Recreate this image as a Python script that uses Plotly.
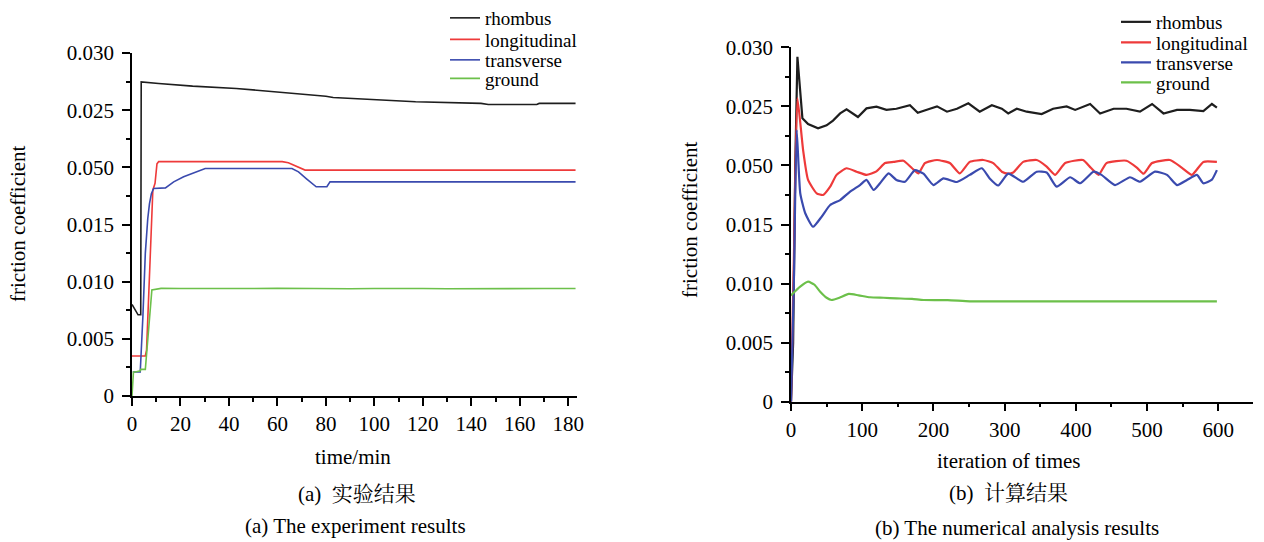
import plotly.graph_objects as go

# ---------------- data: (a) experiment ----------------
t_rhombus = [0, 1.5, 2.5, 3.6, 3.8, 11, 25, 43, 55, 69, 80, 83, 97, 117, 144, 147, 167, 168, 183]
v_rhombus = [0.0080, 0.0074, 0.0071, 0.0071, 0.02747, 0.02733, 0.0271, 0.0269, 0.02669, 0.02646,
             0.02622, 0.02611, 0.02594, 0.02573, 0.02559, 0.0255, 0.0255, 0.02559, 0.02559]

t_long = [0, 5.5, 6.0, 8.2, 8.6, 9.5, 10.3, 11, 30, 50, 62, 64.5, 68.7, 71.4, 90, 120, 150, 183]
v_long = [0.0035, 0.0035, 0.0040, 0.0155, 0.0180, 0.0186, 0.0203, 0.0205, 0.0205, 0.0205, 0.0205,
          0.0204, 0.0200, 0.01976, 0.01976, 0.01976, 0.01976, 0.01976]

t_trans = [0.3, 3.4, 4.5, 5.5, 6.5, 7.2, 8.0, 8.9, 13.8, 17.2, 21.3, 24.7, 30.2, 66, 68.7, 72, 76,
           80.4, 81.7, 100, 140, 183]
v_trans = [0.0021, 0.0021, 0.0070, 0.0125, 0.0155, 0.0168, 0.0177, 0.01815, 0.0182, 0.01873, 0.01917,
           0.01946, 0.0199, 0.0199, 0.0196, 0.0190, 0.0183, 0.0183, 0.01873, 0.01873, 0.01873, 0.01873]

t_ground = [0, 0.6, 1.4, 3.4, 3.6, 5.5, 8.2, 12, 20, 30, 40, 50, 60, 70, 80, 90, 100, 110, 120, 130,
            140, 150, 160, 170, 183]
v_ground = [0, 0.0021, 0.0021, 0.0022, 0.00233, 0.00233, 0.00927, 0.00941, 0.0094, 0.00938, 0.00942,
            0.0094, 0.00943, 0.0094, 0.00941, 0.00938, 0.0094, 0.00942, 0.0094, 0.00938, 0.0094,
            0.00941, 0.00938, 0.0094, 0.0094]

# ---------------- data: (b) numerical ----------------
i_rhombus = [0, 3, 6, 9, 16, 24, 38, 50, 59, 69, 78, 94, 106, 120, 134, 148, 167, 178, 195, 205, 219,
             233, 249, 265, 282, 296, 305, 317, 331, 352, 368, 387, 399, 420, 434, 453, 471, 490, 507,
             523, 542, 560, 579, 591, 598]
n_rhombus = [0, 0.005, 0.020, 0.0292, 0.0240, 0.0235, 0.02315, 0.0234, 0.0238, 0.0244, 0.02475, 0.0241,
             0.02483, 0.02497, 0.0247, 0.0248, 0.0251, 0.02446, 0.0248, 0.0250, 0.02455, 0.0248,
             0.02526, 0.02455, 0.0251, 0.0248, 0.0244, 0.0248, 0.02455, 0.02435, 0.0248, 0.0250,
             0.0247, 0.0252, 0.0244, 0.0248, 0.0248, 0.02455, 0.0252, 0.0244, 0.0247, 0.0247, 0.0246,
             0.0252, 0.0249]

i_long = [0, 4, 9, 17, 24, 36, 45, 55, 64, 78, 92, 106, 120, 132, 144, 158, 170, 179, 188, 205, 223,
          237, 251, 270, 284, 296, 305, 312, 326, 345, 359, 371, 385, 410, 421, 432, 443, 471, 486, 495,
          507, 532, 549, 563, 579, 598]
n_long = [0, 0.012, 0.0257, 0.0213, 0.01877, 0.01764, 0.0175, 0.0182, 0.0192, 0.01976, 0.01947, 0.0192,
          0.0195, 0.0202, 0.0203, 0.0204, 0.01976, 0.01933, 0.0202, 0.02046, 0.0202, 0.01933, 0.0203,
          0.02046, 0.0202, 0.01947, 0.0193, 0.0194, 0.0203, 0.02046, 0.0199, 0.0192, 0.0202, 0.02046,
          0.0198, 0.0192, 0.0202, 0.0204, 0.0198, 0.0193, 0.0202, 0.02046, 0.0198, 0.0192, 0.0203,
          0.0203]

i_trans = [0, 4, 8, 13, 20, 31, 43, 55, 69, 83, 97, 106, 116, 125, 137, 148, 160, 174, 186, 200, 214,
           233, 251, 268, 279, 291, 305, 326, 345, 359, 373, 392, 406, 425, 436, 455, 476, 490, 511,
           528, 542, 556, 570, 579, 591, 598]
n_trans = [0, 0.010, 0.0230, 0.01764, 0.01595, 0.01481, 0.01566, 0.01665, 0.01707, 0.01778, 0.01834,
           0.01877, 0.01792, 0.01849, 0.01933, 0.01877, 0.01862, 0.0196, 0.0193, 0.01834, 0.0189,
           0.0186, 0.0192, 0.01976, 0.0189, 0.0183, 0.0193, 0.01862, 0.01947, 0.0194, 0.0182, 0.0190,
           0.01849, 0.01947, 0.0192, 0.01834, 0.0190, 0.01862, 0.01947, 0.0192, 0.01834, 0.01877,
           0.0192, 0.01849, 0.0188, 0.0196]

i_ground = [0, 3, 12, 24, 33, 41, 50, 57, 68, 81, 95, 111, 130, 148, 170, 186, 220, 251, 300, 400, 500, 598]
n_ground = [0.0090, 0.00918, 0.0097, 0.01016, 0.0099, 0.00931, 0.0088, 0.00861, 0.0088, 0.00912, 0.0090,
            0.00884, 0.0088, 0.00875, 0.0087, 0.00861, 0.0086, 0.0085, 0.0085, 0.0085, 0.0085, 0.0085]

# tick labels (as printed in the original figure)
y_tickvals = [0, 0.005, 0.010, 0.015, 0.020, 0.025, 0.030]
y_ticktext = ["0", "0.005", "0.010", "0.015", "0.050", "0.025", "0.030"]

names = ["rhombus", "longitudinal", "transverse", "ground"]
colors = ["#1e1e1e", "#ee3a3a", "#3a4aae", "#6cc04a"]

FONT = "Liberation Serif, 'Times New Roman', serif"
CJK = "Liberation Serif, 'Noto Serif CJK SC', 'Noto Sans CJK SC', serif"
W, H = 1264, 542
FS = 21
LFS = 19

fig = go.Figure()

left_sets = [(t_rhombus, v_rhombus), (t_long, v_long), (t_trans, v_trans), (t_ground, v_ground)]
right_sets = [(i_rhombus, n_rhombus), (i_long, n_long), (i_trans, n_trans), (i_ground, n_ground)]

left_rows = [18, 39.5, 60, 78.5]
right_rows = [22, 42.5, 62.5, 82.5]

for k, (xs, ys) in enumerate(left_sets):
    fig.add_trace(go.Scatter(x=xs, y=ys, mode="lines", name=names[k],
                             line=dict(color=colors[k], width=1.6),
                             xaxis="x", yaxis="y", legend=f"legend{k + 2}"))
for k, (xs, ys) in enumerate(right_sets):
    shape = "linear" if k == 0 else "spline"
    fig.add_trace(go.Scatter(x=xs, y=ys, mode="lines", name=names[k],
                             line=dict(color=colors[k], width=2.2, shape=shape, smoothing=0.5),
                             xaxis="x2", yaxis="y2", legend=f"legend{k + 6}"))

minor_common = dict(tickmode="linear", tick0=0, ticks="outside", ticklen=4,
                    tickcolor="black", tickwidth=1.5)
axis_common = dict(showline=True, linecolor="black", linewidth=1.5, showgrid=False, zeroline=False,
                   ticks="outside", ticklen=8, tickwidth=1.5, tickcolor="black",
                   tickfont=dict(family=FONT, size=FS, color="black"))

layout = dict(
    width=W, height=H, margin=dict(l=0, r=0, t=0, b=0, autoexpand=False),
    paper_bgcolor="white", plot_bgcolor="white",
    xaxis=dict(domain=[132 / W, 577 / W], range=[0, 183.6], anchor="y",
               tickmode="linear", tick0=0, dtick=20,
               minor=dict(dtick=10, **minor_common), **axis_common),
    yaxis=dict(domain=[(H - 396) / H, (H - 53) / H], range=[0, 0.030], anchor="x",
               tickmode="array", tickvals=y_tickvals, ticktext=y_ticktext, ticklabelstandoff=4,
               minor=dict(dtick=0.0025, **minor_common), **axis_common),
    xaxis2=dict(domain=[791 / W, 1253 / W], range=[0, 648.7], anchor="y2",
                tickmode="linear", tick0=0, dtick=100,
                minor=dict(dtick=50, **minor_common), **axis_common),
    yaxis2=dict(domain=[(H - 401.7) / H, (H - 47.3) / H], range=[0, 0.030], anchor="x2",
                tickmode="array", tickvals=y_tickvals, ticktext=y_ticktext, ticklabelstandoff=4,
                minor=dict(dtick=0.0025, **minor_common), **axis_common),
    legend=dict(visible=False),
)

for k in range(8):
    key = f"legend{k + 2}"
    if k < 4:
        lx, ly = 445 / W, 1 - left_rows[k] / H
    else:
        lx, ly = 1116 / W, 1 - right_rows[k - 4] / H
    layout[key] = dict(x=lx, y=ly, xanchor="left", yanchor="middle", bgcolor="rgba(0,0,0,0)",
                       borderwidth=0, font=dict(family=FONT, size=LFS, color="black"))

fig.update_layout(**layout)

annos = [
    dict(text="friction coefficient", x=18 / W, y=1 - 224 / H, textangle=-90),
    dict(text="friction coefficient", x=690 / W, y=1 - 220 / H, textangle=-90),
    dict(text="time/min", x=353 / W, y=1 - 457 / H, textangle=0),
    dict(text="iteration of times", x=1008 / W, y=1 - 461 / H, textangle=0),
    dict(text="(a)  实验结果", x=357 / W, y=1 - 494 / H, textangle=0, cjk=True),
    dict(text="(a) The experiment results", x=355 / W, y=1 - 526 / H, textangle=0),
    dict(text="(b)  计算结果", x=1008 / W, y=1 - 493 / H, textangle=0, cjk=True),
    dict(text="(b) The numerical analysis results", x=1017 / W, y=1 - 528 / H, textangle=0),
]
for a in annos:
    fig.add_annotation(text=a["text"], x=a["x"], y=a["y"], xref="paper", yref="paper",
                       xanchor="center", yanchor="middle", showarrow=False, textangle=a["textangle"],
                       font=dict(family=CJK if a.get("cjk") else FONT, size=FS, color="black"))

fig.write_html("out.html")
